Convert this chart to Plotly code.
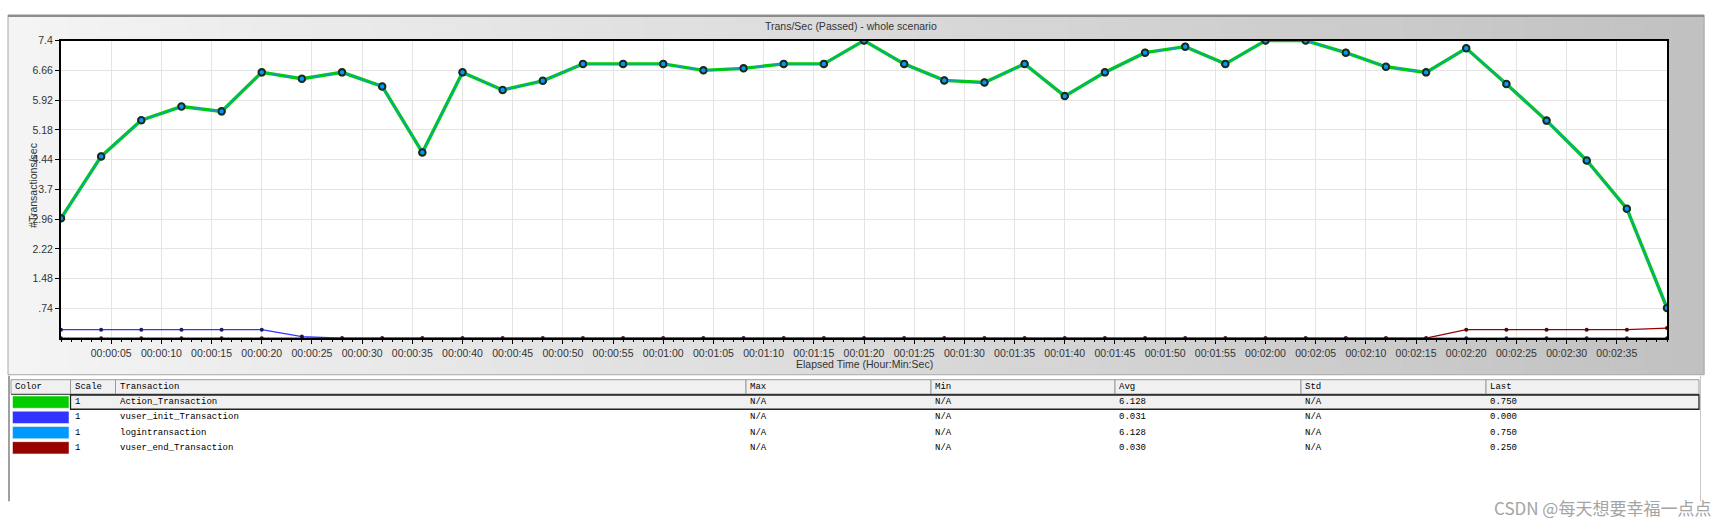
import plotly.graph_objects as go

W, H = 1726, 526

# ---------------- data ----------------
times = [0, 4, 8, 12, 16, 20, 24, 28, 32, 36, 40, 44, 48, 52, 56, 60, 64, 68, 72, 76,
         80, 84, 88, 92, 96, 100, 104, 108, 112, 116, 120, 124, 128, 132, 136, 140,
         144, 148, 152, 156, 160]

action_transaction = [2.98, 4.52, 5.42, 5.76, 5.64, 6.61, 6.45, 6.61, 6.26, 4.62,
                      6.61, 6.17, 6.40, 6.82, 6.82, 6.82, 6.66, 6.71, 6.82, 6.82,
                      7.40, 6.82, 6.41, 6.36, 6.82, 6.02, 6.61, 7.10, 7.25, 6.82,
                      7.40, 7.40, 7.10, 6.75, 6.61, 7.21, 6.32, 5.41, 4.42, 3.22, 0.75]

logintransaction = [2.98, 4.52, 5.42, 5.76, 5.64, 6.61, 6.45, 6.61, 6.26, 4.62,
                    6.61, 6.17, 6.40, 6.82, 6.82, 6.82, 6.66, 6.71, 6.82, 6.82,
                    7.40, 6.82, 6.41, 6.36, 6.82, 6.02, 6.61, 7.10, 7.25, 6.82,
                    7.40, 7.40, 7.10, 6.75, 6.61, 7.21, 6.32, 5.41, 4.42, 3.22, 0.75]

vuser_init_transaction = [0.21, 0.21, 0.21, 0.21, 0.21, 0.21, 0.04, 0, 0, 0,
                          0, 0, 0, 0, 0, 0, 0, 0, 0, 0,
                          0, 0, 0, 0, 0, 0, 0, 0, 0, 0,
                          0, 0, 0, 0, 0, 0, 0, 0, 0, 0, 0]

vuser_end_transaction = [0, 0, 0, 0, 0, 0, 0, 0, 0, 0,
                         0, 0, 0, 0, 0, 0, 0, 0, 0, 0,
                         0, 0, 0, 0, 0, 0, 0, 0, 0, 0,
                         0, 0, 0, 0, 0, 0.21, 0.21, 0.21, 0.21, 0.21, 0.25]

y_tick_vals = [0.74, 1.48, 2.22, 2.96, 3.7, 4.44, 5.18, 5.92, 6.66, 7.4]
y_tick_text = [".74", "1.48", "2.22", "2.96", "3.7", "4.44", "5.18", "5.92", "6.66", "7.4"]

x_tick_vals = [5, 10, 15, 20, 25, 30, 35, 40, 45, 50, 55, 60, 65, 70, 75, 80, 85, 90,
               95, 100, 105, 110, 115, 120, 125, 130, 135, 140, 145, 150, 155]
x_tick_text = ["00:00:05", "00:00:10", "00:00:15", "00:00:20", "00:00:25", "00:00:30",
               "00:00:35", "00:00:40", "00:00:45", "00:00:50", "00:00:55", "00:01:00",
               "00:01:05", "00:01:10", "00:01:15", "00:01:20", "00:01:25", "00:01:30",
               "00:01:35", "00:01:40", "00:01:45", "00:01:50", "00:01:55", "00:02:00",
               "00:02:05", "00:02:10", "00:02:15", "00:02:20", "00:02:25", "00:02:30",
               "00:02:35"]

table_columns = ["Color", "Scale", "Transaction", "Max", "Min", "Avg", "Std", "Last"]
table_names = ["Action_Transaction", "vuser_init_Transaction", "logintransaction",
               "vuser_end_Transaction"]
table_colors = ["#00cc00", "#3333ff", "#0099ff", "#990000"]
table_scale = ["1", "1", "1", "1"]
table_max = ["N/A", "N/A", "N/A", "N/A"]
table_min = ["N/A", "N/A", "N/A", "N/A"]
table_avg = ["6.128", "0.031", "6.128", "0.030"]
table_std = ["N/A", "N/A", "N/A", "N/A"]
table_last = ["0.750", "0.000", "0.750", "0.250"]

# ---------------- geometry helpers (pixels -> paper) ----------------
def px(x):
    return x / W


def py(y):
    return 1 - y / H


PLOT_L, PLOT_R, PLOT_T, PLOT_B = 61, 1667, 35, 336
PANEL_T, PANEL_B = 9, 373

fig = go.Figure()

fig.add_trace(go.Scatter(
    x=times, y=action_transaction, mode="lines+markers", name="Action_Transaction",
    line=dict(color="#00cc00", width=3.4),
    marker=dict(size=7, color="#00cc00", line=dict(color="#1f3a1f", width=1.5)),
))
fig.add_trace(go.Scatter(
    x=times, y=vuser_init_transaction, mode="lines+markers", name="vuser_init_Transaction",
    line=dict(color="#3333ff", width=1.2),
    marker=dict(size=4, color="#1c1c66"), cliponaxis=False,
))
fig.add_trace(go.Scatter(
    x=times, y=logintransaction, mode="lines+markers", name="logintransaction",
    line=dict(color="#0aa0c8", width=1.1),
    marker=dict(size=6, color="#0099ff", line=dict(color="#1a2a1a", width=1.6)),
))
fig.add_trace(go.Scatter(
    x=times, y=vuser_end_transaction, mode="lines+markers", name="vuser_end_Transaction",
    line=dict(color="#990000", width=1.2),
    marker=dict(size=4, color="#4a0a0a"), cliponaxis=False,
))

shapes = []
x0, x1 = 8, 1704
n = 56
step = (x1 - x0) / n
for i in range(n):
    f = (i + 0.5) / n
    c = int(round(244 - (244 - 193) * f))
    col = f"rgb({c},{c},{c})"
    shapes.append(dict(type="rect", xref="paper", yref="paper", layer="below",
                       x0=px(x0 + i * step), x1=px(x0 + (i + 1) * step + 0.6),
                       y0=py(PANEL_B), y1=py(PANEL_T), fillcolor=col, line=dict(width=0)))
shapes.append(dict(type="rect", xref="paper", yref="paper", layer="below",
                   x0=px(8), x1=px(1704), y0=py(PANEL_B), y1=py(PANEL_T),
                   line=dict(color="#a8a8a8", width=1)))
shapes.append(dict(type="line", xref="paper", yref="paper", layer="below",
                   x0=px(8), x1=px(1704), y0=py(PANEL_T + 1), y1=py(PANEL_T + 1),
                   line=dict(color="#8c8c8c", width=2)))
shapes.append(dict(type="rect", xref="paper", yref="paper", layer="below",
                   x0=px(PLOT_L), x1=px(PLOT_R), y0=py(PLOT_B), y1=py(PLOT_T),
                   fillcolor="white", line=dict(width=0)))

# ---------------- table ----------------
col_edges = [11, 70.5, 115.5, 746, 931, 1115, 1301, 1486, 1699]
hdr_top, hdr_bot = 378, 392.5
row_h = 15.4
row_tops = [393 + i * row_h for i in range(len(table_names))]

shapes.append(dict(type="line", xref="paper", yref="paper", layer="below",
                   x0=px(9), x1=px(9), y0=py(374), y1=py(501),
                   line=dict(color="#a0a0a0", width=2)))
shapes.append(dict(type="line", xref="paper", yref="paper", layer="below",
                   x0=px(1700.5), x1=px(1700.5), y0=py(374), y1=py(501),
                   line=dict(color="#c8c8c8", width=1)))
for i in range(len(table_columns)):
    shapes.append(dict(type="rect", xref="paper", yref="paper", layer="below",
                       x0=px(col_edges[i]), x1=px(col_edges[i + 1]),
                       y0=py(hdr_bot), y1=py(hdr_top),
                       fillcolor="#f0f0f0", line=dict(color="#9a9a9a", width=1)))
shapes.append(dict(type="line", xref="paper", yref="paper", layer="below",
                   x0=px(col_edges[0]), x1=px(col_edges[-1]), y0=py(hdr_bot + 0.5), y1=py(hdr_bot + 0.5),
                   line=dict(color="#555555", width=1)))
shapes.append(dict(type="rect", xref="paper", yref="paper", layer="below",
                   x0=px(col_edges[1]), x1=px(col_edges[-1]),
                   y0=py(row_tops[0] + row_h - 0.5), y1=py(row_tops[0] + 0.5),
                   fillcolor="#f0f0f0", line=dict(color="#222222", width=1.3)))
for i, c in enumerate(table_colors):
    shapes.append(dict(type="rect", xref="paper", yref="paper", layer="below",
                       x0=px(col_edges[0] + 1.5), x1=px(col_edges[1] - 1.5),
                       y0=py(row_tops[i] + row_h - 1.5), y1=py(row_tops[i] + 1.5),
                       fillcolor=c, line=dict(color="white", width=0.5)))

annotations = []
annotations.append(dict(text="Trans/Sec (Passed) - whole scenario", xref="paper", yref="paper",
                        x=px(851), y=py(20), xanchor="center", yanchor="middle", showarrow=False,
                        font=dict(family="Liberation Sans, Arial", size=10.5, color="#333333")))
annotations.append(dict(text="Elapsed Time (Hour:Min:Sec)", xref="paper", yref="paper",
                        x=px(864), y=py(362.5), xanchor="center", yanchor="middle", showarrow=False,
                        font=dict(family="Liberation Sans, Arial", size=10.5, color="#333333")))
annotations.append(dict(text="#Transactions/sec", xref="paper", yref="paper", textangle=-90,
                        x=px(33), y=py(182), xanchor="center", yanchor="middle", showarrow=False,
                        font=dict(family="Liberation Sans, Arial", size=10.5, color="#333333")))

mono = dict(family="Liberation Mono, DejaVu Sans Mono", size=9, color="#000000")
for i, name in enumerate(table_columns):
    annotations.append(dict(text=name, xref="paper", yref="paper",
                            x=px(col_edges[i] + 2), y=py((hdr_top + hdr_bot) / 2),
                            xanchor="left", yanchor="middle", showarrow=False, font=mono))
for r in range(len(table_names)):
    vals = [table_scale[r], table_names[r], table_max[r], table_min[r],
            table_avg[r], table_std[r], table_last[r]]
    for j, v in enumerate(vals):
        annotations.append(dict(text=v, xref="paper", yref="paper",
                                x=px(col_edges[j + 1] + 2), y=py(row_tops[r] + row_h / 2),
                                xanchor="left", yanchor="middle", showarrow=False, font=mono))

annotations.append(dict(text="CSDN @每天想要幸福一点点", xref="paper", yref="paper",
                        x=px(1713), y=py(507), xanchor="right", yanchor="middle", showarrow=False,
                        font=dict(family="Noto Sans CJK SC", size=17, color="#a4a4a4")))

tick_font = dict(family="Liberation Sans, Arial", size=10.5, color="#333333")

fig.update_layout(
    width=W, height=H, autosize=False,
    margin=dict(l=0, r=0, t=0, b=0),
    paper_bgcolor="white", plot_bgcolor="rgba(0,0,0,0)",
    showlegend=False, hovermode=False,
    shapes=shapes, annotations=annotations,
    xaxis=dict(domain=[px(PLOT_L), px(PLOT_R)], range=[0, 160],
               tickmode="array", tickvals=x_tick_vals, ticktext=x_tick_text,
               ticks="outside", ticklen=4, tickcolor="#000000", tickwidth=1,
               showgrid=True, gridcolor="#e4e4e4", gridwidth=1,
               showline=True, linecolor="#000000", linewidth=2, mirror=True,
               zeroline=False, tickfont=tick_font,
               minor=dict(dtick=1, tick0=0, ticks="outside", ticklen=2, tickcolor="#000000",
                          showgrid=False)),
    yaxis=dict(domain=[py(PLOT_B), py(PLOT_T)], range=[0, 7.4],
               tickmode="array", tickvals=y_tick_vals, ticktext=y_tick_text,
               ticks="outside", ticklen=4, tickcolor="#000000",
               showgrid=True, gridcolor="#e4e4e4", gridwidth=1,
               showline=True, linecolor="#000000", linewidth=2, mirror=True,
               zeroline=False, tickfont=tick_font),
)

fig.write_html("out.html", config={"displayModeBar": False},
               post_script="document.body.style.margin='0';document.body.style.overflow='hidden';")
